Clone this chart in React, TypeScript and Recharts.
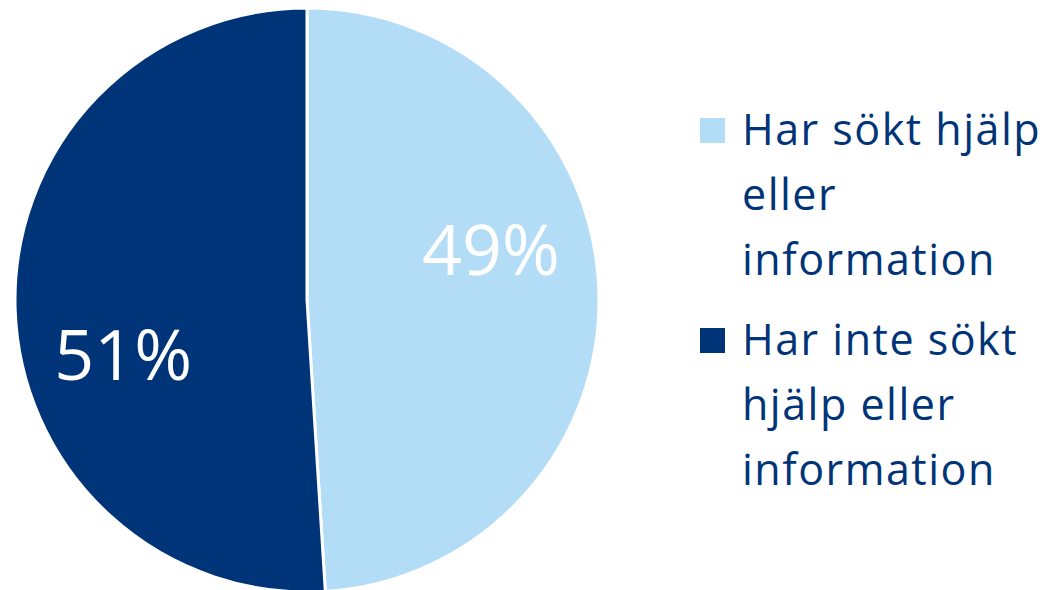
import { PieChart, Pie, Cell, Legend } from 'recharts'

const categories = ['Har sökt hjälp eller information', 'Har inte sökt hjälp eller information']
const shares = [49, 51]
const colors = ['#B3DCF7', '#003478']

const data = categories.map((name, i) => ({ name, value: shares[i] }))

// Excel "best fit" placement: nudged up for the first slice, down for the second
const labelShift = [-46, 47]

const RADIAN = Math.PI / 180

function renderLabel(props: any) {
  const { cx, cy, midAngle, outerRadius, index, value } = props
  const r = outerRadius * 0.63
  const x = cx + r * Math.cos(-midAngle * RADIAN)
  const y = cy + r * Math.sin(-midAngle * RADIAN) + labelShift[index]
  return (
    <text
      x={x}
      y={y}
      fill="#ffffff"
      textAnchor="middle"
      dominantBaseline="central"
      fontSize={70}
      fontFamily="'Open Sans', sans-serif"
    >
      {`${value}%`}
    </text>
  )
}

function LegendContent() {
  return (
    <div
      style={{
        fontFamily: "'Open Sans', sans-serif",
        fontSize: 43,
        letterSpacing: 1.5,
        lineHeight: '65px',
        color: '#003478',
      }}
    >
      {categories.map((name, i) => (
        <div key={name} style={{ display: 'flex', marginBottom: 15 }}>
          <div
            style={{ width: 25, height: 25, background: colors[i], marginTop: 22, marginRight: 17, flexShrink: 0 }}
          />
          <div style={{ width: 320 }}>{name}</div>
        </div>
      ))}
    </div>
  )
}

export default function App() {
  return (
    <div style={{ position: 'absolute', left: 0, top: 0, background: '#fff' }}>
      <PieChart width={1046} height={590}>
        <Pie
          data={data}
          dataKey="value"
          nameKey="name"
          cx={302}
          cy={295}
          outerRadius={292}
          startAngle={90}
          endAngle={-270}
          stroke="#ffffff"
          strokeWidth={3}
          label={renderLabel}
          labelLine={false}
          isAnimationActive={false}
        >
          {data.map((d, i) => (
            <Cell key={d.name} fill={colors[i]} />
          ))}
        </Pie>
        <Legend
          content={<LegendContent />}
          wrapperStyle={{ left: 700, top: 96, width: 346 }}
        />
      </PieChart>
    </div>
  )
}
